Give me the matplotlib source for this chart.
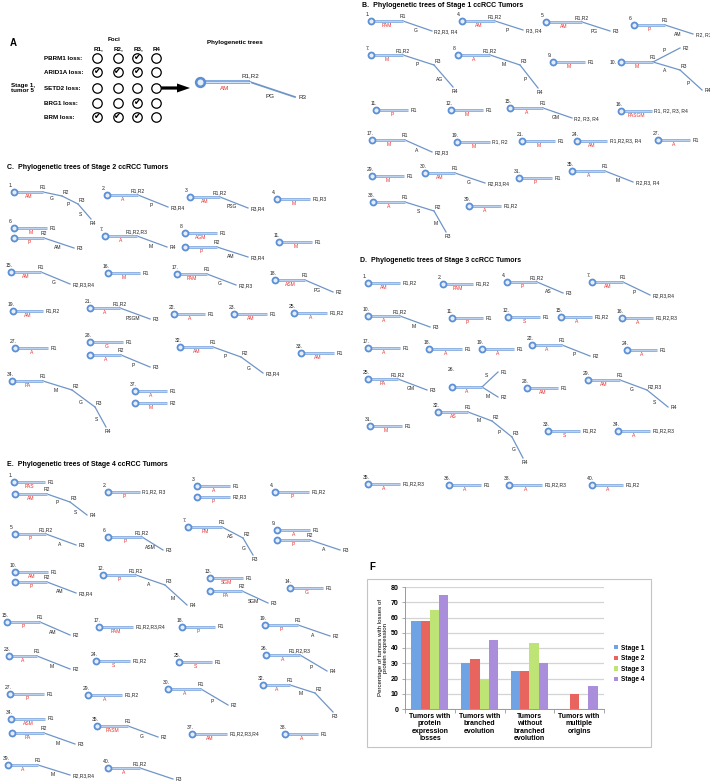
import matplotlib
matplotlib.use("Agg")
import matplotlib.pyplot as plt
from matplotlib.patches import Rectangle, FancyArrow
import numpy as np

plt.rcParams['font.family'] = ['Liberation Sans', 'DejaVu Sans']

# ---------------------------------------------------------------- data
# Panel A: protein loss per focus
A_GENES = ["PBRM1 loss:", "ARID1A loss:", "SETD2 loss:", "BRG1 loss:", "BRM loss:"]
A_FOCI = ["R1,", "R2,", "R3,", "R4"]
A_LOSS = [[0, 0, 1, 0],
          [1, 1, 1, 0],
          [0, 0, 0, 0],
          [0, 0, 1, 0],
          [1, 1, 1, 0]]
A_TREE = [[("AM", "R1,R2"), ("PG", "R3")]]

# Trees: per tumour, list of lineages; each lineage is a list of edges
# (mutation label, node label[, parent node index])
STAGE1_TREES = {
    "1.": [[("PAM", "R1"), ("G", "R2,R3, R4")]],
    "4.": [[("AM", "R1,R2"), ("P", "R3, R4")]],
    "5.": [[("AM", "R1,R2"), ("PG", "R3")]],
    "6.": [[("P", "R1"), ("AM", "R2, R3")]],
    "7.": [[("M", "R1,R2"), ("P", "R3"), ("AG", "R4")]],
    "8.": [[("A", "R1,R2"), ("M", "R3"), ("P", "R4")]],
    "9.": [[("M", "R1")]],
    "10.": [[("M", "R1"), ("P", "R2", 1), ("A", "R3", 1), ("P", "R4", 3)]],
    "11.": [[("P", "R1")]],
    "12.": [[("M", "R1")]],
    "15.": [[("A", "R1"), ("GM", "R2, R3, R4")]],
    "16.": [[("PASGM", "R1, R2, R3, R4")]],
    "17.": [[("M", "R1"), ("A", "R2,R3")]],
    "19.": [[("M", "R1, R2")]],
    "21.": [[("M", "R1")]],
    "24.": [[("AM", "R1,R2,R3, R4")]],
    "27.": [[("A", "R1")]],
    "29.": [[("M", "R1")]],
    "30.": [[("AM", "R1"), ("G", "R2,R3,R4")]],
    "31.": [[("P", "R1")]],
    "35.": [[("A", "R1"), ("M", "R2,R3, R4")]],
    "38.": [[("A", "R1"), ("S", "R2"), ("M", "R3")]],
    "39.": [[("A", "R1,R2")]],
}
STAGE2_TREES = {
    "1.": [[("AM", "R1"), ("G", "R2"), ("P", "R3"), ("S", "R4")]],
    "2.": [[("A", "R1,R2"), ("P", "R3,R4")]],
    "3.": [[("AM", "R1,R2"), ("PSG", "R3,R4")]],
    "4.": [[("M", "R1,R3")]],
    "6.": [[("M", "R1")], [("P", "R2"), ("AM", "R3")]],
    "7.": [[("A", "R1,R2,R3"), ("M", "R4")]],
    "8.": [[("AGM", "R1")], [("P", "R2"), ("AM", "R3,R4")]],
    "11.": [[("M", "R1")]],
    "15.": [[("AM", "R1"), ("G", "R2,R3,R4")]],
    "16.": [[("M", "R1")]],
    "17.": [[("PAM", "R1"), ("G", "R2,R3")]],
    "18.": [[("ASM", "R1"), ("PG", "R2")]],
    "19.": [[("AM", "R1,R2")]],
    "21.": [[("A", "R1,R2"), ("PSGM", "R3")]],
    "22.": [[("A", "R1")]],
    "23.": [[("AM", "R1")]],
    "25.": [[("A", "R1,R2")]],
    "27.": [[("A", "R1")]],
    "28.": [[("G", "R1")], [("A", "R2"), ("P", "R3")]],
    "32.": [[("AM", "R1"), ("P", "R2"), ("G", "R3,R4")]],
    "33.": [[("AM", "R1")]],
    "34.": [[("PA", "R1"), ("M", "R2"), ("G", "R3"), ("S", "R4")]],
    "37.": [[("A", "R1")], [("M", "R2")]],
}
STAGE3_TREES = {
    "1.": [[("AM", "R1,R2")]],
    "2.": [[("PAM", "R1,R2")]],
    "4.": [[("P", "R1,R2"), ("AS", "R3")]],
    "7.": [[("AM", "R1"), ("P", "R2,R3,R4")]],
    "10.": [[("A", "R1,R2"), ("M", "R3")]],
    "11.": [[("P", "R1")]],
    "12.": [[("S", "R1")]],
    "15.": [[("A", "R1,R2")]],
    "16.": [[("A", "R1,R2,R3")]],
    "17.": [[("A", "R1")]],
    "18.": [[("A", "R1")]],
    "19.": [[("A", "R1")]],
    "22.": [[("A", "R1"), ("P", "R2")]],
    "24.": [[("A", "R1")]],
    "25.": [[("PA", "R1,R2"), ("GM", "R3")]],
    "26.": [[("A", ""), ("S", "R1", 1), ("M", "R2", 1)]],
    "28.": [[("AM", "R1")]],
    "29.": [[("AM", "R1"), ("G", "R2,R3"), ("S", "R4")]],
    "31.": [[("M", "R1")]],
    "32.": [[("AS", "R1"), ("M", "R2"), ("P", "R3"), ("G", "R4")]],
    "33.": [[("S", "R1,R2")]],
    "34.": [[("A", "R1,R2,R3")]],
    "35.": [[("A", "R1,R2,R3")]],
    "36.": [[("A", "R1")]],
    "38.": [[("A", "R1,R2,R3")]],
    "40.": [[("A", "R1,R2")]],
}
STAGE4_TREES = {
    "1.": [[("PAS", "R1")], [("AM", "R2"), ("P", "R3"), ("S", "R4")]],
    "2.": [[("P", "R1,R2, R3")]],
    "3.": [[("A", "R1")], [("P", "R2,R3")]],
    "4.": [[("P", "R1,R2")]],
    "5.": [[("P", "R1,R2"), ("A", "R3")]],
    "6.": [[("P", "R1,R2"), ("ASM", "R3")]],
    "7.": [[("PM", "R1"), ("AS", "R2"), ("G", "R3")]],
    "9.": [[("A", "R1")], [("P", "R2"), ("A", "R3")]],
    "10.": [[("AM", "R1")], [("P", "R2"), ("AM", "R3,R4")]],
    "12.": [[("P", "R1,R2"), ("A", "R3"), ("M", "R4")]],
    "13.": [[("SGM", "R1")], [("PA", "R2"), ("SGM", "R3")]],
    "14.": [[("G", "R1")]],
    "15.": [[("P", "R1"), ("AM", "R2")]],
    "17.": [[("PAM", "R1,R2,R3,R4")]],
    "18.": [[("P", "R1")]],
    "19.": [[("P", "R1"), ("A", "R2")]],
    "23.": [[("A", "R1"), ("M", "R2")]],
    "24.": [[("S", "R1,R2")]],
    "25.": [[("S", "R1")]],
    "26.": [[("A", "R1,R2,R3"), ("P", "R4")]],
    "27.": [[("P", "R1")]],
    "29.": [[("A", "R1,R2")]],
    "30.": [[("A", "R1"), ("P", "R2")]],
    "32.": [[("A", "R1"), ("M", "R2"), ("", "R3")]],
    "34.": [[("ASM", "R1")], [("PA", "R2"), ("M", "R3")]],
    "35.": [[("PASM", "R1"), ("G", "R2")]],
    "37.": [[("AM", "R1,R2,R3,R4")]],
    "38.": [[("A", "R1")]],
    "39.": [[("A", "R1"), ("M", "R2,R3,R4")]],
    "40.": [[("A", "R1,R2"), ("", "R3")]],
}

# Panel F bar chart
F_CATEGORIES = ["Tumors with\nprotein\nexpression\nlosses",
                "Tumors with\nbranched\nevolution",
                "Tumors\nwithout\nbranched\nevolution",
                "Tumors with\nmultiple\norigins"]
F_STAGES = ["Stage 1", "Stage 2", "Stage 3", "Stage 4"]
F_STAGE1 = [58, 30, 25, 0]
F_STAGE2 = [58, 33, 25, 10]
F_STAGE3 = [65, 20, 43, 0]
F_STAGE4 = [75, 45, 30, 15]

# ---------------------------------------------------------------- layout (pixel positions of tree nodes)
A_TREE_POS = [[(200, 82), (250, 82), (295, 97)]]
STAGE1_POS = {
    "1.": [[(371, 21), (403, 21), (432, 31)]],
    "4.": [[(462, 21), (495, 21), (523, 30)]],
    "5.": [[(546, 22), (582, 22), (610, 31)]],
    "6.": [[(634, 25), (665, 25), (693, 34)]],
    "7.": [[(371, 55), (403, 55), (434, 65), (453, 87)]],
    "8.": [[(458, 55), (490, 55), (520, 65), (538, 88)]],
    "9.": [[(553, 62), (585, 62)]],
    "10.": [[(621, 62), (653, 62), (680, 48), (680, 70), (702, 90)]],
    "11.": [[(376, 110), (408, 110)]],
    "12.": [[(451, 110), (483, 110)]],
    "15.": [[(510, 108), (543, 108), (572, 118)]],
    "16.": [[(621, 111), (652, 111)]],
    "17.": [[(372, 140), (405, 140), (432, 152)]],
    "19.": [[(457, 142), (490, 142)]],
    "21.": [[(522, 141), (555, 141)]],
    "24.": [[(577, 141), (607, 141)]],
    "27.": [[(658, 140), (690, 140)]],
    "29.": [[(372, 176), (404, 176)]],
    "30.": [[(425, 173), (455, 173), (485, 183)]],
    "31.": [[(519, 178), (552, 178)]],
    "35.": [[(572, 171), (605, 171), (633, 182)]],
    "38.": [[(373, 202), (405, 202), (434, 211), (446, 232)]],
    "39.": [[(469, 206), (501, 206)]],
}
STAGE2_POS = {
    "1.": [[(14, 192), (43, 192), (62, 196), (78, 204), (91, 219)]],
    "2.": [[(107, 195), (138, 195), (168, 207)]],
    "3.": [[(190, 197), (220, 197), (248, 208)]],
    "4.": [[(277, 199), (310, 199)]],
    "6.": [[(14, 228), (47, 228)], [(14, 238), (44, 238), (74, 248)]],
    "7.": [[(105, 236), (137, 236), (167, 247)]],
    "8.": [[(185, 233), (217, 233)], [(185, 247), (217, 247), (248, 257)]],
    "11.": [[(279, 242), (312, 242)]],
    "15.": [[(11, 272), (41, 272), (70, 284)]],
    "16.": [[(108, 273), (140, 273)]],
    "17.": [[(177, 274), (207, 274), (236, 285)]],
    "18.": [[(275, 280), (305, 280), (333, 292)]],
    "19.": [[(13, 311), (43, 311)]],
    "21.": [[(90, 308), (120, 308), (150, 319)]],
    "22.": [[(174, 314), (205, 314)]],
    "23.": [[(234, 314), (267, 314)]],
    "25.": [[(294, 313), (327, 313)]],
    "27.": [[(15, 348), (48, 348)]],
    "28.": [[(90, 342), (123, 342)], [(90, 355), (121, 355), (150, 367)]],
    "32.": [[(180, 347), (213, 347), (241, 357), (263, 373)]],
    "33.": [[(301, 353), (334, 353)]],
    "34.": [[(12, 381), (43, 381), (72, 390), (95, 407), (106, 427)]],
    "37.": [[(135, 391), (167, 391)], [(135, 403), (167, 403)]],
}
STAGE3_POS = {
    "1.": [[(368, 283), (400, 283)]],
    "2.": [[(443, 284), (473, 284)]],
    "4.": [[(507, 282), (537, 282), (563, 293)]],
    "7.": [[(592, 282), (623, 282), (650, 295)]],
    "10.": [[(368, 316), (400, 316), (430, 327)]],
    "11.": [[(452, 318), (483, 318)]],
    "12.": [[(508, 317), (540, 317)]],
    "15.": [[(561, 317), (592, 317)]],
    "16.": [[(622, 318), (653, 318)]],
    "17.": [[(368, 348), (400, 348)]],
    "18.": [[(429, 349), (462, 349)]],
    "19.": [[(482, 349), (514, 349)]],
    "22.": [[(532, 345), (562, 345), (590, 356)]],
    "24.": [[(627, 350), (657, 350)]],
    "25.": [[(368, 379), (398, 379), (427, 390)]],
    "26.": [[(452, 387), (482, 387), (498, 372), (498, 397)]],
    "28.": [[(527, 388), (558, 388)]],
    "29.": [[(588, 380), (620, 380), (647, 390), (668, 407)]],
    "31.": [[(370, 426), (402, 426)]],
    "32.": [[(438, 412), (468, 412), (492, 421), (512, 437), (523, 458)]],
    "33.": [[(548, 431), (580, 431)]],
    "34.": [[(618, 431), (650, 431)]],
    "35.": [[(368, 484), (400, 484)]],
    "36.": [[(449, 485), (481, 485)]],
    "38.": [[(509, 485), (542, 485)]],
    "40.": [[(592, 485), (623, 485)]],
}
STAGE4_POS = {
    "1.": [[(14, 482), (45, 482)], [(15, 494), (47, 494), (70, 502), (87, 515)]],
    "2.": [[(108, 492), (140, 492)]],
    "3.": [[(197, 486), (230, 486)], [(197, 497), (230, 497)]],
    "4.": [[(275, 492), (309, 492)]],
    "5.": [[(15, 534), (46, 534), (76, 545)]],
    "6.": [[(108, 537), (142, 537), (163, 550)]],
    "7.": [[(188, 527), (222, 527), (243, 538), (253, 555)]],
    "9.": [[(277, 530), (310, 530)], [(277, 540), (310, 540), (340, 550)]],
    "10.": [[(15, 572), (48, 572)], [(15, 582), (47, 582), (76, 593)]],
    "12.": [[(103, 575), (136, 575), (165, 585), (187, 605)]],
    "13.": [[(210, 578), (243, 578)], [(210, 591), (242, 591), (268, 603)]],
    "14.": [[(290, 588), (323, 588)]],
    "15.": [[(7, 622), (40, 622), (70, 635)]],
    "17.": [[(99, 627), (133, 627)]],
    "18.": [[(182, 627), (215, 627)]],
    "19.": [[(265, 625), (298, 625), (330, 636)]],
    "23.": [[(9, 656), (37, 656), (70, 669)]],
    "24.": [[(96, 661), (130, 661)]],
    "25.": [[(179, 662), (212, 662)]],
    "26.": [[(266, 655), (300, 655), (327, 671)]],
    "27.": [[(10, 694), (44, 694)]],
    "29.": [[(88, 695), (122, 695)]],
    "30.": [[(168, 689), (201, 689), (228, 705)]],
    "32.": [[(263, 685), (290, 685), (315, 693), (333, 712)]],
    "34.": [[(11, 719), (45, 719)], [(12, 733), (44, 733), (75, 744)]],
    "35.": [[(97, 726), (128, 726), (158, 737)]],
    "37.": [[(192, 734), (227, 734)]],
    "38.": [[(285, 734), (318, 734)]],
    "39.": [[(8, 765), (38, 765), (70, 775)]],
    "40.": [[(108, 768), (140, 768), (173, 779)]],
}
NUM_OVERRIDE = {("B", "10."): (617, 62, "right", "center"),
                ("D", "26."): (448, 369, "left", "center")}

# ---------------------------------------------------------------- drawing
W, H = 710, 784
fig = plt.figure(figsize=(W / 100, H / 100), dpi=100)
ax = fig.add_axes([0, 0, 1, 1])
ax.set_xlim(0, W)
ax.set_ylim(H, 0)
ax.axis("off")

TRUNK = "#86ace0"
BRANCH = "#6f95c8"
RING = "#5b8fd6"
RED = "#e5312d"
FS = 3.6


def draw_tree(num, lineages, coords, panel="", s=1.0, fs=FS):
    for li, (edges, pts) in enumerate(zip(lineages, coords)):
        parents = [e[2] if len(e) > 2 else k for k, e in enumerate(edges)]
        has_child = set(parents)
        for k, e in enumerate(edges):
            mut, lab = e[0], e[1]
            p, c = parents[k], k + 1
            x0, y0 = pts[p]
            x1, y1 = pts[c]
            if p == 0:
                ax.plot([x0, x1], [y0, y1], color=TRUNK, lw=2.0 * s,
                        solid_capstyle="butt", zorder=2)
                ax.plot([x0, x1], [y0 - 0.3, y1 - 0.3], color="#d3e2f5",
                        lw=0.5 * s, zorder=2.1)
            else:
                ax.plot([x0, x1], [y0, y1], color=BRANCH, lw=0.9 * s, zorder=2)
            dx, dy = x1 - x0, y1 - y0
            L = np.hypot(dx, dy)
            if dy >= 0:
                px, py = -dy / L, dx / L
            else:
                px, py = dy / L, -dx / L
            off = 4.8 * s
            if mut:
                ax.text((x0 + x1) / 2 + px * off, (y0 + y1) / 2 + py * off, mut,
                        ha="center", va="center", fontsize=fs,
                        color=RED if p == 0 else "#222222")
            if lab:
                if c not in has_child:
                    if abs(dy) > abs(dx):
                        ax.text(x1 + 2, y1 + 4.5 * s, lab, ha="center", va="center",
                                fontsize=fs, color="#222222")
                    else:
                        ax.text(x1 + 2.5 * s, y1 + (0.8 if dy > 0 else 0), lab,
                                ha="left", va="center", fontsize=fs, color="#222222")
                else:
                    if p == 0:
                        ax.text(x1, y1 - 4.3 * s, lab, ha="center", va="center",
                                fontsize=fs, color="#222222")
                    else:
                        ax.text(x1 + 1, y1 - 3.5 * s, lab, ha="left", va="center",
                                fontsize=fs, color="#222222")
        ax.plot(pts[0][0], pts[0][1], "o", ms=4.3 * s, mfc="#e4edf9", mec=RING,
                mew=1.3 * s, zorder=3)
    if num:
        r = coords[0][0]
        if (panel, num) in NUM_OVERRIDE:
            x, y, ha, va = NUM_OVERRIDE[(panel, num)]
        else:
            x, y, ha, va = r[0] - 5, r[1] - 6.5, "left", "center"
        ax.text(x, y, num, ha=ha, va=va, fontsize=fs, color="#222222")


# ---- Panel A
ax.text(10, 43, "A", fontsize=7, fontweight="bold", va="center")
ax.text(114, 39, "Foci", fontsize=4.5, fontweight="bold", ha="center", va="center")
col_x = [97, 117.5, 137, 156]
row_y = [58, 72, 88, 103, 117]
for cx, f in zip(col_x, A_FOCI):
    ax.text(cx + 1, 49, f, fontsize=4.5, fontweight="bold", ha="center", va="center")
for ry, g, row in zip(row_y, A_GENES, A_LOSS):
    ax.text(44, ry, g, fontsize=4.5, fontweight="bold", ha="left", va="center")
    for cx, v in zip(col_x, row):
        ax.plot(cx, ry, "o", ms=6.8, mfc="white", mec="black", mew=0.9, zorder=3)
        if v:
            ax.text(cx + 0.5, ry - 0.3, "\u2714", fontsize=6.2, ha="center", va="center",
                    color="black", family="DejaVu Sans", zorder=4)
ax.text(11, 88, "Stage 1,\ntumor 5", fontsize=4.5, fontweight="bold", ha="left",
        va="center", linespacing=1.1)
ax.add_patch(FancyArrow(153, 88, 37, 0, width=3.2, head_width=9, head_length=13,
                        length_includes_head=True, color="black", lw=0))
ax.text(235, 42, "Phylogenetic trees", fontsize=4.5, fontweight="bold", ha="center",
        va="center")
draw_tree("", A_TREE, A_TREE_POS, s=1.45, fs=4.5)

# ---- Tree panels
ax.text(362, 5, "B.  Phylogenetic trees of Stage 1 ccRCC Tumors", fontsize=5,
        fontweight="bold", va="center")
for k, v in STAGE1_TREES.items():
    draw_tree(k, v, STAGE1_POS[k], panel="B")

ax.text(7, 167, "C.  Phylogenetic trees of Stage 2 ccRCC Tumors", fontsize=5,
        fontweight="bold", va="center")
for k, v in STAGE2_TREES.items():
    draw_tree(k, v, STAGE2_POS[k], panel="C")

ax.text(360, 260, "D.  Phylogenetic trees of Stage 3 ccRCC Tumors", fontsize=5,
        fontweight="bold", va="center")
for k, v in STAGE3_TREES.items():
    draw_tree(k, v, STAGE3_POS[k], panel="D")

ax.text(7, 464, "E.  Phylogenetic trees of Stage 4 ccRCC Tumors", fontsize=5,
        fontweight="bold", va="center")
for k, v in STAGE4_TREES.items():
    draw_tree(k, v, STAGE4_POS[k], panel="E")

# ---- Panel F
ax.text(369, 567, "F", fontsize=7, fontweight="bold", va="center")
ax.add_patch(Rectangle((367, 579), 284, 168, fill=False, ec="#c4c4c4", lw=0.8))
ax.text(383, 648, "Percentage of tumors with losses of\nprotein expression",
        rotation=90, fontsize=4.4, ha="center", va="center", linespacing=1.15)

bax = fig.add_axes([405 / W, 1 - 709 / H, 199 / W, 122 / H])
bax.patch.set_alpha(0)
colors = ["#6fa3e4", "#e8655f", "#bde474", "#aa8ddb"]
xs = np.arange(len(F_CATEGORIES))
bw = 0.185
for i, (vals, col, lab) in enumerate(zip([F_STAGE1, F_STAGE2, F_STAGE3, F_STAGE4],
                                         colors, F_STAGES)):
    bax.bar(xs + (i - 1.5) * bw, vals, bw, color=col, label=lab, zorder=3)
bax.set_xlim(-0.5, 3.5)
bax.set_ylim(0, 80)
bax.set_yticks(range(0, 81, 10))
bax.yaxis.grid(True, color="#d4d4d4", lw=0.9, zorder=0)
bax.set_axisbelow(True)
for sp in ["top", "right"]:
    bax.spines[sp].set_visible(False)
for sp in ["left", "bottom"]:
    bax.spines[sp].set_color("#9a9a9a")
    bax.spines[sp].set_linewidth(0.7)
bax.tick_params(axis="y", labelsize=5, length=2.5, width=0.6, color="#9a9a9a", pad=2)
for t in bax.get_yticklabels():
    t.set_fontweight("bold")
bax.set_xticks(xs)
bax.set_xticklabels(F_CATEGORIES, fontsize=5, fontweight="bold", linespacing=1.05)
bax.tick_params(axis="x", length=0, pad=3)
bax.set_xticks(np.arange(-0.5, 3.6, 1), minor=True)
bax.tick_params(axis="x", which="minor", length=3, width=0.6, color="#9a9a9a")
leg = bax.legend(loc="center left", bbox_to_anchor=(611 / W, 1 - 664 / H),
                 bbox_transform=fig.transFigure, frameon=False,
                 prop={"size": 4.7, "weight": "bold"}, handlelength=0.6,
                 handleheight=0.6, handletextpad=0.4, labelspacing=0.55,
                 borderpad=0)

fig.savefig("out.png", dpi=100)
